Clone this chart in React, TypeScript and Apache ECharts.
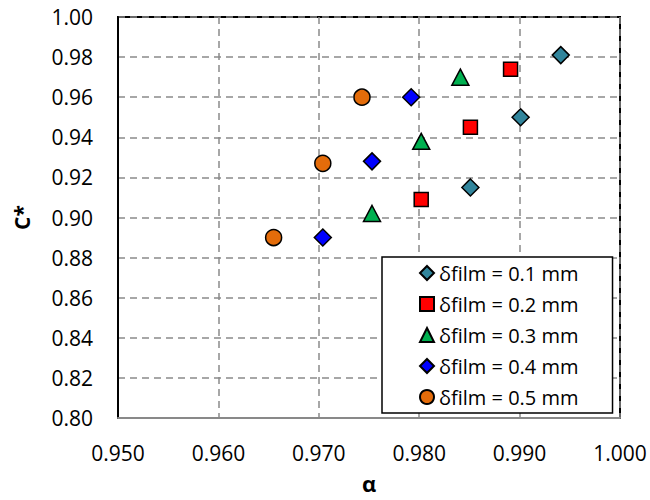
import React, { useEffect, useRef } from "react";
import * as echarts from "echarts";

const seriesNames = [
  "δfilm = 0.1 mm",
  "δfilm = 0.2 mm",
  "δfilm = 0.3 mm",
  "δfilm = 0.4 mm",
  "δfilm = 0.5 mm",
];

const alpha01 = [0.9941, 0.9901, 0.9851];
const c01 = [0.981, 0.950, 0.915];
const alpha02 = [0.9891, 0.9851, 0.9802];
const c02 = [0.974, 0.945, 0.909];
const alpha03 = [0.9841, 0.9802, 0.9753];
const c03 = [0.970, 0.938, 0.902];
const alpha04 = [0.9792, 0.9753, 0.9704];
const c04 = [0.960, 0.928, 0.890];
const alpha05 = [0.9743, 0.9704, 0.9655];
const c05 = [0.960, 0.927, 0.890];

const xs = [alpha01, alpha02, alpha03, alpha04, alpha05];
const ys = [c01, c02, c03, c04, c05];

const colors = ["#31859C", "#FF0000", "#00B050", "#0000FF", "#E46C0A"];
const symbols = ["diamond", "rect", "triangle", "diamond", "circle"];
const symbolSizes: any[] = [17, 14, [17, 16], 17, 16];

const FONT = "'Open Sans', sans-serif";

export default function App() {
  const ref = useRef<HTMLDivElement>(null);
  useEffect(() => {
    if (!ref.current) return;
    const chart = echarts.init(ref.current, undefined, { renderer: "svg" });
    const series = seriesNames.map((name, i) => ({
      name,
      type: "scatter",
      symbol: symbols[i],
      symbolSize: symbolSizes[i],
      itemStyle: { color: colors[i], borderColor: "#000", borderWidth: 1.5, opacity: 1 },
      data: xs[i].map((x, j) => [x, ys[i][j]]),
    }));
    chart.setOption({
      animation: false,
      backgroundColor: "#fff",
      textStyle: { fontFamily: FONT },
      grid: {
        left: 118,
        top: 17,
        width: 502,
        height: 401,
        show: true,
        borderColor: "#000",
        borderWidth: 2,
        backgroundColor: "transparent",
        containLabel: false,
        outerBoundsMode: "none",
      },
      legend: {
        orient: "vertical",
        left: 382,
        top: 257,
        backgroundColor: "#fff",
        borderColor: "#000",
        borderWidth: 1.5,
        borderRadius: 0,
        padding: [6, 34, 6, 37],
        itemGap: 11,
        itemWidth: 14,
        itemHeight: 14,
        textStyle: { fontFamily: FONT, fontSize: 20, color: "#000", lineHeight: 20 },
        data: seriesNames.map((n, i) => ({ name: n, icon: symbols[i] })),
      },
      xAxis: {
        type: "value",
        min: 0.95,
        max: 1.0,
        interval: 0.01,
        name: "α",
        nameLocation: "middle",
        nameGap: 54,
        nameTextStyle: {
          fontFamily: FONT,
          fontSize: 22,
          lineHeight: 22,
          fontWeight: "bold",
          color: "#000",
        },
        axisLine: { show: true, lineStyle: { color: "#898989", width: 2 } },
        axisTick: { show: false },
        axisLabel: {
          formatter: (v: number) => v.toFixed(3),
          fontFamily: FONT,
          fontSize: 21,
          color: "#000",
          margin: 24,
        },
        splitLine: { show: true, lineStyle: { color: "#8a8a8a", width: 1.5, type: [7, 5] } },
      },
      yAxis: {
        type: "value",
        min: 0.8,
        max: 1.0,
        interval: 0.02,
        name: "C*",
        nameLocation: "middle",
        nameGap: 86,
        nameTextStyle: { fontFamily: FONT, fontSize: 21, fontWeight: "bold", color: "#000" },
        axisLine: { show: true, lineStyle: { color: "#000", width: 2 } },
        axisTick: { show: false },
        axisLabel: {
          formatter: (v: number) => v.toFixed(2),
          fontFamily: FONT,
          fontSize: 21,
          color: "#000",
          margin: 25,
        },
        splitLine: { show: true, lineStyle: { color: "#8a8a8a", width: 1.5, type: [7, 5] } },
      },
      series,
    });
    return () => chart.dispose();
  }, []);
  return (
    <div
      ref={ref}
      style={{ position: "fixed", left: 0, top: 0, width: 650, height: 500, background: "#fff" }}
    />
  );
}
